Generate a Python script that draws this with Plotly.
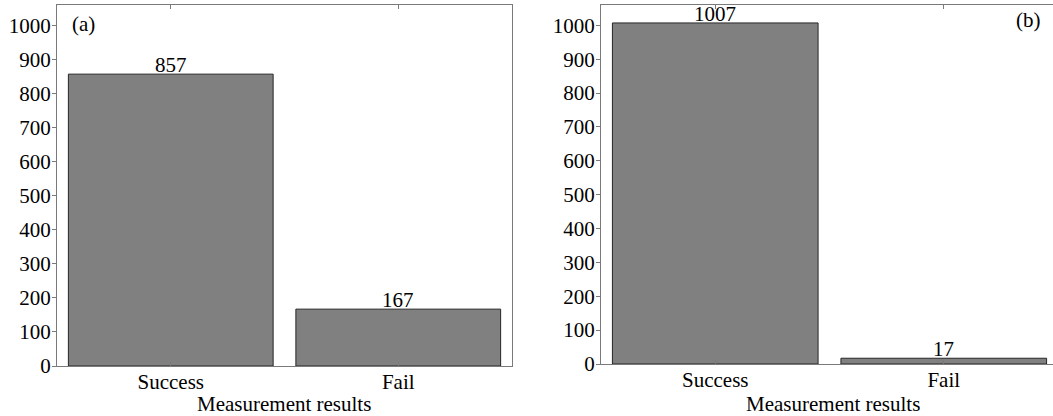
import plotly.graph_objects as go

categories = ["Success", "Fail"]
values_a = [857, 167]
values_b = [1007, 17]
panel_labels = ["(a)", "(b)"]
x_title = "Measurement results"
y_ticks = [0, 100, 200, 300, 400, 500, 600, 700, 800, 900, 1000]

W, H = 1053, 416
FONT = "Liberation Serif"
AX = "#7a7a7a"
YMAX = 1060
FS = 21

fig = go.Figure()
fig.add_trace(go.Bar(x=categories, y=values_a, xaxis="x", yaxis="y",
                     width=0.9, marker=dict(color="#808080", line=dict(color="#262626", width=1)),
                     showlegend=False))
fig.add_trace(go.Bar(x=categories, y=values_b, xaxis="x2", yaxis="y2",
                     width=0.9, marker=dict(color="#808080", line=dict(color="#262626", width=1)),
                     showlegend=False))

def px(x):
    return x / W

def py(y):
    return (H - y) / H

xcommon = dict(type="category", ticks="inside", ticklen=4, tickcolor=AX, showline=True,
               linecolor=AX, linewidth=1, mirror="ticks", showgrid=False, zeroline=False,
               automargin=False, ticklabelstandoff=-3,
               tickfont=dict(family=FONT, size=FS, color="black"))
ycommon = dict(range=[0, YMAX], tickvals=y_ticks, ticks="outside", ticklen=4, tickcolor=AX,
               showline=True, linecolor=AX, linewidth=1, showgrid=False, zeroline=False,
               automargin=False, ticklabelstandoff=-3,
               tickfont=dict(family=FONT, size=FS, color="black"))

fig.update_layout(
    template="none",
    width=W, height=H, autosize=False,
    margin=dict(l=0, r=0, t=0, b=0, pad=0),
    paper_bgcolor="white", plot_bgcolor="white",
    font=dict(family=FONT, size=FS, color="black"),
    xaxis=dict(domain=[px(57), px(512)], range=[-0.5, 1.5], anchor="y", **xcommon),
    yaxis=dict(domain=[py(366), py(5)], anchor="x", mirror=True, **ycommon),
    xaxis2=dict(domain=[px(601), 1.0], range=[-0.5, -0.5 + 452 / 228.5], anchor="y2", **xcommon),
    yaxis2=dict(domain=[py(364), py(5)], anchor="x2", mirror=False, **ycommon),
    yaxis3=dict(overlaying="y", side="right", anchor="x", range=[0, YMAX], tickvals=y_ticks,
                ticks="inside", ticklen=4, tickcolor=AX, showticklabels=False, showline=False,
                showgrid=False, zeroline=False, automargin=False),
)

anns = []
for cat, v in zip(categories, values_a):
    anns.append(dict(x=cat, y=v, xref="x", yref="y", text=str(v), showarrow=False,
                     yanchor="bottom", yshift=-5, font=dict(family=FONT, size=FS, color="black")))
for cat, v in zip(categories, values_b):
    anns.append(dict(x=cat, y=v, xref="x2", yref="y2", text=str(v), showarrow=False,
                     yanchor="bottom", yshift=-5, font=dict(family=FONT, size=FS, color="black")))
anns.append(dict(x=px(83), y=py(24), xref="paper", yref="paper", text=panel_labels[0],
                 showarrow=False, xanchor="center", yanchor="middle",
                 font=dict(family=FONT, size=FS, color="black")))
anns.append(dict(x=px(1028), y=py(20), xref="paper", yref="paper", text=panel_labels[1],
                 showarrow=False, xanchor="center", yanchor="middle",
                 font=dict(family=FONT, size=FS, color="black")))
anns.append(dict(x=px(284), y=py(404), xref="paper", yref="paper", text=x_title,
                 showarrow=False, xanchor="center", yanchor="middle",
                 font=dict(family=FONT, size=FS, color="black")))
anns.append(dict(x=px(833), y=py(404), xref="paper", yref="paper", text=x_title,
                 showarrow=False, xanchor="center", yanchor="middle",
                 font=dict(family=FONT, size=FS, color="black")))
fig.update_layout(annotations=anns)

fig.write_html(
    "out.html",
    config={"displayModeBar": False},
    post_script="document.body.style.margin='0';document.body.style.overflow='hidden';",
)
